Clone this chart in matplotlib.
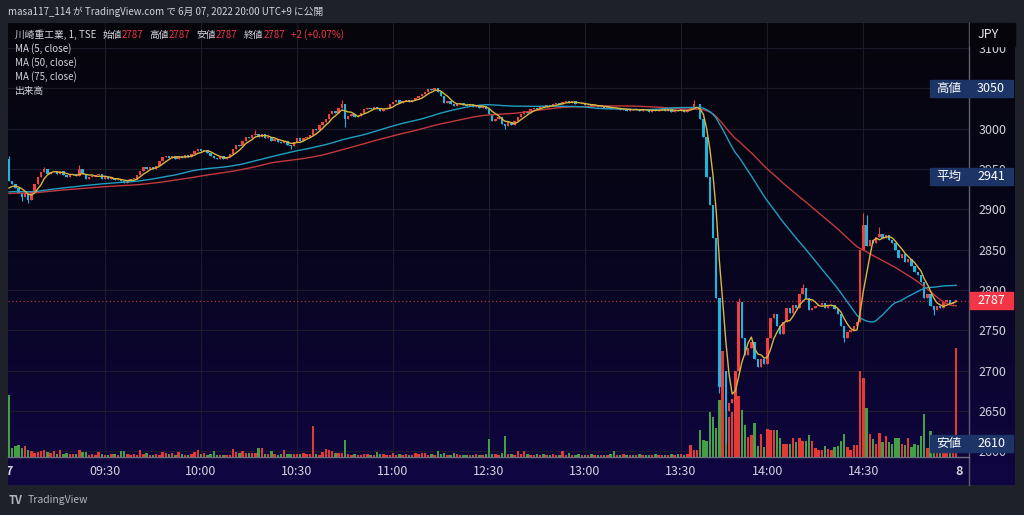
import numpy as np
import pandas as pd
import matplotlib
matplotlib.use('Agg')
import matplotlib.pyplot as plt
import matplotlib.transforms as mtransforms
from matplotlib.colors import LinearSegmentedColormap
from matplotlib.patches import Rectangle
from matplotlib.lines import Line2D

plt.rcParams['font.family'] = ['Noto Sans CJK JP', 'DejaVu Sans']

# ---- data: 1 minute bars, 6/07 (Kawasaki Heavy Industries, TSE) ----
# closes, bar 0 = 09:00
closes = [
    2935, 2932, 2926, 2920, 2915, 2920, 2912, 2922, 2932, 2940,
    2946, 2950, 2944, 2946, 2948, 2944, 2947, 2943, 2940, 2942,
    2944, 2941, 2950, 2944, 2938, 2940, 2941, 2942, 2944, 2938,
    2940, 2937, 2939, 2936, 2938, 2935, 2933, 2936, 2938, 2938,
    2942, 2948, 2952, 2950, 2952, 2950, 2954, 2960, 2965, 2966,
    2964, 2966, 2963, 2966, 2964, 2967, 2965, 2968, 2972, 2975,
    2972, 2974, 2970, 2966, 2964, 2962, 2966, 2963, 2965, 2968,
    2975, 2980, 2978, 2985, 2990, 2988, 2992, 2994, 2990, 2993,
    2988, 2990, 2985, 2987, 2984, 2982, 2985, 2980, 2978, 2984,
    2988, 2985, 2988, 2990, 2992, 3000, 2998, 3004, 3008, 3012,
    3018, 3022, 3020, 3026, 3030, 3012, 3016, 3018, 3014, 3016,
    3020, 3024, 3026, 3024, 3027, 3025, 3022, 3024, 3026, 3030,
    3033, 3035, 3032, 3034, 3036, 3033, 3035, 3038, 3040, 3043,
    3046, 3049, 3048, 3050, 3046, 3040, 3032, 3034, 3030, 3028,
    3030, 3032, 3029, 3028, 3030, 3027, 3029, 3026, 3028, 3025,
    # afternoon from 12:30
    3018, 3010, 3012, 3015, 3006, 3003, 3008, 3005, 3010, 3015,
    3018, 3022, 3020, 3024, 3026, 3025, 3028, 3027, 3029, 3028,
    3030, 3032, 3031, 3033, 3034, 3032, 3034, 3031, 3030, 3032,
    3029, 3030, 3028, 3029, 3027, 3028, 3026, 3027, 3025, 3024,
    3026, 3023, 3025, 3022, 3024, 3023, 3025, 3022, 3024, 3023,
    3021, 3024, 3022, 3023, 3025, 3022, 3024, 3021, 3023, 3022,
    3024, 3021, 3023, 3026, 3030, 3031, 3012, 2990, 2940, 2905,
    2865, 2790, 2680, 2700, 2650, 2660, 2665, 2700, 2785, 2740,
    2720, 2728, 2735, 2715, 2705, 2715, 2708, 2740, 2765, 2770,
    2755, 2745, 2760, 2778, 2772, 2782, 2778, 2795, 2802, 2790,
    2775, 2778, 2780, 2782, 2784, 2778, 2780, 2782, 2776, 2770,
    2755, 2740, 2748, 2750, 2755, 2760, 2850, 2880, 2855, 2862,
    2858, 2866, 2870, 2865, 2868, 2862, 2858, 2850, 2840, 2845,
    2835, 2838, 2830, 2822, 2818, 2810, 2790, 2795, 2780, 2775,
    2780, 2778, 2785, 2788, 2783, 2785, 2787,
]

# opens that differ from the previous close
open_fix = {0: 2962, 296: 2787}
# bars with visible wicks: index -> (high, low)
wick_fix = {
    0: (2966, None), 4: (None, 2910), 6: (None, 2908), 11: (2953, None),
    22: (2955, None), 77: (2998, None), 88: (None, 2975), 104: (3036, None),
    105: (None, 3002), 155: (None, 3000), 214: (3035, None),
    222: (None, 2672), 224: (None, 2610), 228: (2790, None),
    248: (2808, None), 261: (None, 2735), 267: (2895, None),
    268: (2893, None), 272: (2878, None), 289: (None, 2769),
}

# volume (bar heights read in pixels of the pane)
volumes = [
    62, 9.3, 10.7, 12, 8.7, 11, 6.7, 6, 4, 5.3,
    6, 6.7, 5, 4.3, 6, 3.3, 7.3, 3, 4, 2.7,
    3.3, 2.7, 7.3, 4.7, 4.7, 2.3, 2.7, 2, 5.3, 2.7,
    2, 2.3, 2.7, 2.7, 2.3, 6, 6, 2.7, 2, 2.7,
    2, 6.7, 2.7, 3.7, 2.3, 2, 3.3, 2, 5.3, 4,
    2.7, 4, 2, 5.3, 2.7, 2, 2, 2.7, 4.7, 7.3,
    3.3, 4, 1.7, 3.3, 5.7, 2.3, 2, 2, 2.3, 2,
    8, 4.7, 4, 6, 3.7, 4.3, 4, 4, 8.7, 8.7,
    3.3, 3.3, 6, 3.3, 2, 2.7, 7.3, 3.3, 3.3, 3.3,
    3.3, 3.3, 3.7, 3.3, 2.7, 30.7, 3.3, 2, 4.7, 8.3,
    6.7, 6, 4, 4, 4, 17, 2.7, 2.3, 3, 2.3,
    2.3, 3, 2.7, 2, 2.3, 5, 3, 2.7, 2, 2.3,
    4.3, 2.3, 2.7, 2, 2.7, 2, 2.3, 4, 3.3, 4,
    4, 2.3, 2.7, 2, 5.7, 2.7, 3.7, 2.3, 2, 3.7,
    2.7, 2.3, 2.3, 2, 2.3, 2, 3.3, 2.3, 2, 2.7,
    18, 3.3, 3, 2.3, 4, 20.7, 3, 2.7, 2.3, 6,
    2.7, 6, 3, 2.3, 2, 2.7, 2.3, 2.7, 2, 2.3,
    2.7, 2, 2.3, 6, 2.3, 4, 2, 2.3, 2.7, 2,
    2.3, 2, 2.7, 2, 2.3, 2, 2.3, 2, 2.7, 6,
    2.3, 2, 2.7, 2.3, 2, 2.3, 2, 2.7, 2, 2.3,
    2, 2.3, 2.7, 2, 2.3, 2, 2.3, 2.7, 2, 3.3,
    3.3, 2.3, 3, 12, 7.3, 7.3, 27, 16.7, 15.7, 45,
    40, 28.7, 56.7, 105.7, 65.7, 40, 44.7, 60.7, 61.3, 47.3,
    32, 19.7, 22, 34, 11.3, 22.7, 9.7, 28.3, 27.3, 27.3,
    26.7, 19.3, 12.7, 12.7, 12.7, 19.3, 15, 19, 15.7, 16.3,
    22, 16.3, 8.7, 7.3, 7.3, 11.3, 8, 7.3, 10, 11.3,
    15.7, 23.3, 10, 7.3, 12, 12, 86.3, 79, 49, 23.3,
    18, 13.3, 24, 15.3, 20.7, 15, 12.7, 18.7, 19, 12.7,
    12, 19.3, 10, 13.3, 12, 21.3, 42.7, 9, 25.7, 14,
    12, 16, 10, 14, 11, 12, 109,
]

# previous session closes, only needed to seed the 50/75 moving averages
prev_closes = [
    2912, 2915, 2914, 2916, 2913, 2915, 2917, 2916, 2914, 2912,
    2915, 2918, 2916, 2914, 2917, 2919, 2918, 2915, 2913, 2916,
    2918, 2920, 2919, 2917, 2915, 2918, 2920, 2922, 2921, 2918,
    2916, 2919, 2921, 2923, 2920, 2918, 2917, 2920, 2922, 2924,
    2921, 2919, 2918, 2921, 2923, 2922, 2920, 2918, 2921, 2923,
    2925, 2922, 2920, 2919, 2922, 2924, 2923, 2921, 2919, 2922,
    2924, 2926, 2923, 2921, 2920, 2922, 2925, 2923, 2921, 2920,
    2922, 2924, 2926, 2925,
]

tick_pos = [0, 30, 60, 90, 120, 150, 180, 210, 237, 267, 297]
tick_lab = ['7', '09:30', '10:00', '10:30', '11:00', '12:30', '13:00',
            '13:30', '14:00', '14:30', '8']
price_ticks = list(range(2600, 3101, 50))

day_high, day_avg, day_low, last = 3050, 2941, 2610, 2787

# ---- build OHLC ----
n = len(closes)
c = np.array(closes, dtype=float)
o = np.concatenate([[c[0]], c[:-1]])
for k, v in open_fix.items():
    o[k] = v
h = np.maximum(o, c)
l = np.minimum(o, c)
for k, (hi, lo) in wick_fix.items():
    if hi is not None:
        h[k] = hi
    if lo is not None:
        l[k] = lo
x = np.arange(n)

allc = pd.Series(prev_closes + closes, dtype=float)
off = len(prev_closes)
ma5 = allc.rolling(5).mean().values[off:]
ma50 = allc.rolling(50).mean().values[off:]
ma75 = allc.rolling(75).mean().values[off:]

UP, DN = '#f0413f', '#22b5dc'
VUP, VDN = '#e53935', '#43a047'
TXT = '#d1d4dc'
up = c >= o

# ---- figure ----
W, H = 1024, 515
fig = plt.figure(figsize=(W / 100, H / 100), dpi=100)
fig.patch.set_facecolor('#1e2129')

PL, PR, PT, PB = 8, 969, 23, 457
AR, AB = 1015, 485


def fx(px):
    return px / W


def fy(py):
    return 1 - py / H


bg = fig.add_axes([fx(PL), fy(AB), (AR - PL) / W, (AB - PT) / H])
cmap = LinearSegmentedColormap.from_list(
    'tv', [(0, '#06050c'), (0.45, '#07061a'), (1, '#100542')])
bg.imshow(np.linspace(0, 1, 256).reshape(-1, 1), aspect='auto', cmap=cmap,
          extent=[0, 1, 0, 1], origin='upper')
bg.set_xlim(0, 1)
bg.set_ylim(0, 1)
bg.set_axis_off()

rect = [fx(PL), fy(PB), (PR - PL) / W, (PB - PT) / H]
ax_v = fig.add_axes(rect)
ax = fig.add_axes(rect)
ax.set_zorder(ax_v.get_zorder() + 1)
for a in (ax, ax_v):
    a.set_facecolor('none')
    for s in a.spines.values():
        s.set_visible(False)
    a.set_xlim(-0.3, 300.0)

ax.set_ylim(2593, 3131)
ax_v.set_ylim(0, 434)
ax_v.set_xticks([])
ax_v.set_yticks([])

# grid
gt = mtransforms.blended_transform_factory(ax_v.transAxes, ax.transData)
for p in price_ticks:
    ax_v.plot([0, 1], [p, p], transform=gt, color='#1b1b2c', lw=0.8, zorder=0)
for p in tick_pos[1:-1]:
    ax_v.axvline(p, color='#1b1b2c', lw=0.8, zorder=0)

# volume
ax_v.bar(x, volumes, width=0.78, color=np.where(up, VUP, VDN), linewidth=0)

# candles
cols = np.where(up, UP, DN)
ax.vlines(x, l, h, colors=cols, lw=0.8, zorder=2)
ax.bar(x, np.maximum(np.abs(c - o), 0.9), bottom=np.minimum(o, c), width=0.75,
       color=cols, linewidth=0, zorder=2)

# moving averages
ax.plot(x, ma75, color='#c4393b', lw=1.0, zorder=3)
ax.plot(x, ma50, color='#1f9ec2', lw=1.0, zorder=3)
ax.plot(x, ma5, color='#d8b640', lw=1.0, zorder=4)

ax.axhline(last, color='#b8303c', lw=0.9, ls=(0, (1, 2)), zorder=1)

# axes ticks
ax.yaxis.tick_right()
ax.set_yticks(price_ticks)
ax.set_yticklabels([str(p) for p in price_ticks])
ax.tick_params(axis='y', length=0, pad=7, labelsize=9, labelcolor=TXT)
ax.set_xticks(tick_pos)
ax.set_xticklabels(tick_lab)
ax.tick_params(axis='x', length=0, pad=6, labelsize=9, labelcolor=TXT)
for t in ax.get_xticklabels():
    if t.get_text() in ('7', '8'):
        t.set_fontweight('bold')
    t.set_clip_on(True)
    t.set_clip_box(bg.bbox)

# separators
fig.add_artist(Line2D([fx(PR), fx(PR)], [fy(PT), fy(AB)], color='#5e6070', lw=1))
fig.add_artist(Line2D([fx(PL), fx(PR)], [fy(PB), fy(PB)], color='#6e7080', lw=1))

# hide top of 3100 behind the currency label
fig.add_artist(Rectangle((fx(PR + 1), fy(46)), (AR - PR - 1) / W, 23 / H,
                         transform=fig.transFigure, color='#06050c', zorder=5))
fig.text(fx(978), fy(35), 'JPY', color='#e6e8ee', fontsize=9, va='center',
         ha='left', zorder=6)


def ypix(p):
    return PT + (3131 - p) * (PB - PT) / (3131 - 2593)


def price_box(p, value, color, label=None):
    yp = ypix(p)
    fig.add_artist(Rectangle((fx(PR + 1), fy(yp + 8.5)), 43 / W, 17 / H,
                             transform=fig.transFigure, color=color, zorder=5))
    fig.text(fx(991), fy(yp), value, color='white', fontsize=9,
             ha='center', va='center', zorder=6)
    if label:
        fig.add_artist(Rectangle((fx(930), fy(yp + 8.5)), (PR - 930) / W, 17 / H,
                                 transform=fig.transFigure, color=color, zorder=5))
        fig.text(fx(949), fy(yp), label, color='white', fontsize=9,
                 ha='center', va='center', zorder=6)


price_box(day_high, str(day_high), '#1c3566', '高値')
price_box(day_avg, str(day_avg), '#1c3566', '平均')
price_box(day_low, str(day_low), '#1c3566', '安値')
price_box(last, str(last), '#f23645')

# header and legend
renderer = fig.canvas.get_renderer()


def runs(x_px, y_px, parts, size):
    for txt, col, gap in parts:
        t = fig.text(fx(x_px), fy(y_px), txt, color=col, fontsize=size,
                     ha='left', va='center')
        bb = t.get_window_extent(renderer)
        x_px = bb.x1 + gap


fig.text(fx(8), fy(12), 'masa117_114 が TradingView.com で 6月 07, 2022 20:00 UTC+9 に公開',
         color=TXT, fontsize=7, ha='left', va='center')

RED = '#f23645'
runs(15, 35, [('川崎重工業, 1, TSE', TXT, 6), ('始値', TXT, 0), ('2787', RED, 6),
              ('高値', TXT, 0), ('2787', RED, 6), ('安値', TXT, 0),
              ('2787', RED, 6), ('終値', TXT, 0), ('2787', RED, 6),
              ('+2 (+0.07%)', RED, 0)], 7)
for yy, s in zip([49, 63, 77, 91],
                 ['MA (5, close)', 'MA (50, close)', 'MA (75, close)', '出来高']):
    fig.text(fx(15), fy(yy), s, color=TXT, fontsize=7, ha='left', va='center')

# footer
fig.text(fx(9), fy(500), 'TV', color='#b2b5be', fontsize=8, fontweight='bold',
         ha='left', va='center')
fig.text(fx(28), fy(500), 'TradingView', color='#b2b5be', fontsize=7.5,
         ha='left', va='center')

fig.savefig('out.png', dpi=100, facecolor=fig.get_facecolor())
